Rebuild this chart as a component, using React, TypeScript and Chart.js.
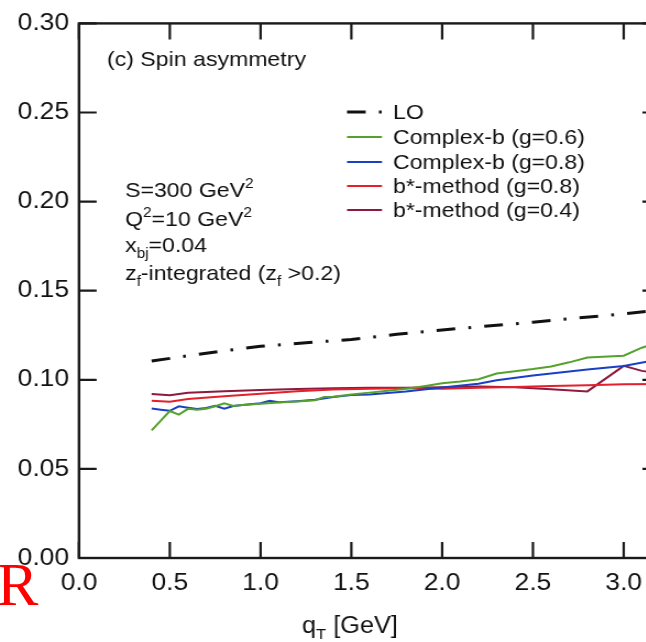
import { useEffect, useRef } from "react";
import { Chart, registerables } from "chart.js";

Chart.register(...registerables);

// ---- data ----
const xTickStep = 0.5;
const yTickStep = 0.05;

const qLO = [0.4, 0.6, 0.8, 1.0, 1.25, 1.5, 1.75, 2.0, 2.25, 2.5, 2.75, 3.0, 3.2];
const vLO = [0.1105, 0.1135, 0.1163, 0.1188, 0.1208, 0.1226, 0.1255, 0.128, 0.1302, 0.1323, 0.1347, 0.137, 0.1392];

const qG06 = [0.4, 0.5, 0.55, 0.6, 0.65, 0.7, 0.75, 0.8, 0.85, 0.9, 1.0, 1.1, 1.2, 1.3, 1.35, 1.4, 1.5, 1.6, 1.7, 1.8, 1.9, 2.0, 2.1, 2.2, 2.3, 2.4, 2.5, 2.6, 2.7, 2.8, 3.0, 3.1, 3.2];
const vG06 = [0.0716, 0.0825, 0.0805, 0.0837, 0.0832, 0.0838, 0.0852, 0.0868, 0.0853, 0.0858, 0.0866, 0.0872, 0.0878, 0.0885, 0.0903, 0.0905, 0.0918, 0.0928, 0.0938, 0.095, 0.0964, 0.098, 0.099, 0.1003, 0.1035, 0.1048, 0.106, 0.1075, 0.1098, 0.1125, 0.1135, 0.118, 0.1213];

const qB08 = [0.4, 0.45, 0.5, 0.55, 0.6, 0.65, 0.7, 0.75, 0.8, 0.85, 0.9, 1.0, 1.05, 1.1, 1.2, 1.3, 1.4, 1.5, 1.6, 1.8, 2.0, 2.2, 2.3, 2.5, 2.8, 3.0, 3.2];
const vB08 = [0.0839, 0.0832, 0.0826, 0.0851, 0.0843, 0.0836, 0.0842, 0.0854, 0.0838, 0.0853, 0.0858, 0.0868, 0.0882, 0.0874, 0.088, 0.0888, 0.0903, 0.0914, 0.0918, 0.0935, 0.0957, 0.0978, 0.0998, 0.1024, 0.1058, 0.1078, 0.1115];

const qR08 = [0.4, 0.5, 0.6, 0.8, 1.0, 1.2, 1.4, 1.6, 1.8, 2.0, 2.2, 2.4, 2.6, 2.8, 3.0, 3.2];
const vR08 = [0.0883, 0.0877, 0.0892, 0.0908, 0.0922, 0.0936, 0.0945, 0.095, 0.0952, 0.095, 0.0955, 0.096, 0.0965, 0.097, 0.0975, 0.0977];

const qR04 = [0.4, 0.5, 0.6, 0.8, 1.0, 1.2, 1.4, 1.6, 1.8, 2.0, 2.2, 2.4, 2.6, 2.8, 3.0, 3.1, 3.2];
const vR04 = [0.092, 0.0913, 0.0927, 0.0936, 0.0943, 0.0949, 0.0953, 0.0955, 0.0955, 0.0958, 0.0963, 0.0958, 0.0947, 0.0935, 0.1078, 0.105, 0.1035];

const seriesLabels = ["LO", "Complex-b (g=0.6)", "Complex-b (g=0.8)", "b*-method (g=0.8)", "b*-method (g=0.4)"];

// ---- layout / style ----
const SX = 1.1; // horizontal stretch of the reference picture
const CW = 620;
const CH = 642;
const FONT = '"Liberation Sans", Arial, sans-serif';
const INK = "#111111";
const X = (d: number) => d / SX;

const pts = (xs: number[], ys: number[]) => xs.map((x, i) => ({ x, y: ys[i] }));

type Part = [string, "n" | "sup" | "sub"];

function drawRich(ctx: CanvasRenderingContext2D, x: number, y: number, parts: Part[], size: number) {
  let cx = x;
  for (const [t, k] of parts) {
    const s = k === "n" ? size : Math.round(size * 0.66);
    ctx.font = `${s}px ${FONT}`;
    const dy = k === "sup" ? -size * 0.42 : k === "sub" ? size * 0.28 : 0;
    ctx.fillText(t, cx, y + dy);
    cx += ctx.measureText(t).width;
  }
}

const framePlugin = {
  id: "frame",
  afterDraw(chart: any) {
    const { ctx, chartArea: a, scales } = chart;
    const xs = scales.x;
    const ys = scales.y;
    ctx.save();
    ctx.strokeStyle = "#1a1a1a";
    ctx.lineWidth = 2.4;
    ctx.setLineDash([]);
    ctx.strokeRect(a.left, a.top, a.right - a.left, a.bottom - a.top);
    const tl = 16;
    ctx.lineWidth = 2.2;
    ctx.beginPath();
    for (const t of xs.ticks) {
      const px = xs.getPixelForValue(t.value);
      ctx.moveTo(px, a.bottom);
      ctx.lineTo(px, a.bottom - tl);
      ctx.moveTo(px, a.top);
      ctx.lineTo(px, a.top + tl);
    }
    for (const t of ys.ticks) {
      const py = ys.getPixelForValue(t.value);
      ctx.moveTo(a.left, py);
      ctx.lineTo(a.left + tl, py);
      ctx.moveTo(a.right, py);
      ctx.lineTo(a.right - tl, py);
    }
    ctx.stroke();

    // annotation texts
    ctx.fillStyle = INK;
    ctx.textAlign = "left";
    ctx.textBaseline = "alphabetic";
    const fs = 21;
    drawRich(ctx, X(107), 66, [["(c) Spin asymmetry", "n"]], fs);
    drawRich(ctx, X(125), 197, [["S=300 GeV", "n"], ["2", "sup"]], fs);
    drawRich(ctx, X(125), 226, [["Q", "n"], ["2", "sup"], ["=10 GeV", "n"], ["2", "sup"]], fs);
    drawRich(ctx, X(125), 252, [["x", "n"], ["bj", "sub"], ["=0.04", "n"]], fs);
    drawRich(ctx, X(125), 280, [["z", "n"], ["f", "sub"], ["-integrated (z", "n"], ["f", "sub"], [" >0.2)", "n"]], fs);

    // legend
    const rows = [112, 137, 162, 186, 210];
    chart.data.datasets.forEach((ds: any, i: number) => {
      const y = rows[i];
      ctx.beginPath();
      ctx.strokeStyle = ds.borderColor;
      ctx.lineWidth = ds.borderWidth;
      ctx.setLineDash(ds.borderDash || []);
      ctx.moveTo(X(347), y);
      ctx.lineTo(X(382), y);
      ctx.stroke();
      ctx.setLineDash([]);
      ctx.fillStyle = INK;
      ctx.font = `21px ${FONT}`;
      ctx.textBaseline = "middle";
      ctx.fillText(ds.label, X(393), y + 1);
    });

    // x axis title
    ctx.textBaseline = "alphabetic";
    ctx.fillStyle = INK;
    drawRich(ctx, X(302), 633, [["q", "n"], ["T", "sub"], [" [GeV]", "n"]], 23);
    ctx.restore();
  },
};

export default function App() {
  const ref = useRef<HTMLCanvasElement>(null);
  useEffect(() => {
    const canvas = ref.current!;
    const chart = new Chart(canvas, {
      type: "line",
      data: {
        datasets: [
          { label: seriesLabels[0], data: pts(qLO, vLO), borderColor: "#111111", borderWidth: 3, borderDash: [17, 12, 2.5, 12] },
          { label: seriesLabels[1], data: pts(qG06, vG06), borderColor: "#55a12e", borderWidth: 2 },
          { label: seriesLabels[2], data: pts(qB08, vB08), borderColor: "#1b3fc4", borderWidth: 2 },
          { label: seriesLabels[3], data: pts(qR08, vR08), borderColor: "#e3202b", borderWidth: 2 },
          { label: seriesLabels[4], data: pts(qR04, vR04), borderColor: "#8c1a3e", borderWidth: 2 },
        ] as any,
      },
      options: {
        responsive: false,
        devicePixelRatio: 1,
        animation: false,
        parsing: false as any,
        elements: { point: { radius: 0 }, line: { tension: 0, fill: false } },
        layout: { padding: { top: 19, right: CW - X(660), bottom: 0, left: 0 } },
        plugins: { legend: { display: false }, tooltip: { enabled: false } },
        scales: {
          x: {
            type: "linear",
            min: 0,
            max: 3.2,
            border: { display: false },
            grid: { display: false, drawTicks: false },
            ticks: {
              stepSize: xTickStep,
              includeBounds: false,
              maxRotation: 0,
              autoSkip: false,
              padding: 11,
              color: INK,
              font: { family: FONT, size: 24 },
              callback: (v: any) => Number(v).toFixed(1),
            },
            afterFit: (s: any) => {
              s.height = CH - 558;
            },
          },
          y: {
            type: "linear",
            min: 0,
            max: 0.3,
            border: { display: false },
            grid: { display: false, drawTicks: false },
            ticks: {
              stepSize: yTickStep,
              padding: 9,
              color: INK,
              font: { family: FONT, size: 24 },
              callback: (v: any) => Number(v).toFixed(2),
            },
            afterFit: (s: any) => {
              s.width = X(79);
            },
          },
        },
      },
      plugins: [framePlugin],
    });
    return () => chart.destroy();
  }, []);

  return (
    <div style={{ position: "absolute", left: 0, top: 0, width: 646, height: 642, overflow: "hidden", background: "#fff" }}>
      <div style={{ transform: `scaleX(${SX})`, transformOrigin: "0 0", width: CW, height: CH }}>
        <canvas ref={ref} width={CW} height={CH} style={{ display: "block" }} />
      </div>
      <div
        style={{
          position: "absolute",
          left: -3,
          top: 553,
          fontFamily: '"Liberation Serif", serif',
          fontSize: 62,
          lineHeight: 1,
          color: "#ff0000",
        }}
      >
        R
      </div>
    </div>
  );
}
